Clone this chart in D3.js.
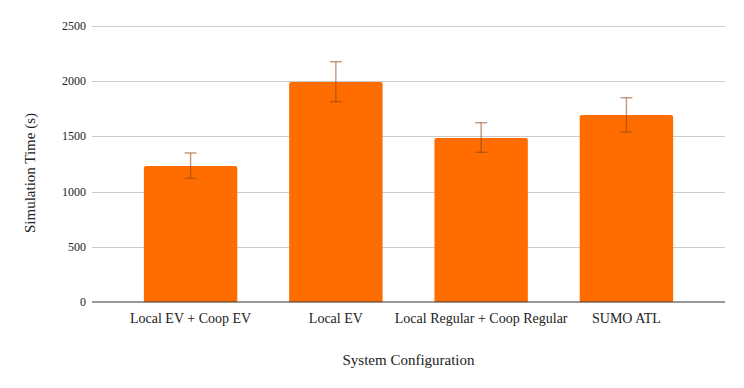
<!DOCTYPE html>
<html>
<head>
<meta charset="utf-8">
<script src="https://cdn.jsdelivr.net/npm/d3@7"></script>
<style>
body{margin:0;background:#fff;}
text{font-family:"Liberation Serif","Times New Roman",serif;fill:#222;}
</style>
</head>
<body>
<script>
var categories=["Local EV + Coop EV","Local EV","Local Regular + Coop Regular","SUMO ATL"];
var values=[1232,1993,1486,1694];
var errLow=[1120,1814,1356,1540];
var errHigh=[1350,2177,1624,1850];
var yticks=[0,500,1000,1500,2000,2500];

var chart_w=744,chart_h=388;
var plot_left=92,plot_right=725,plot_top=26,plot_bottom=302;

var svg=d3.select("body").append("svg").attr("width",chart_w).attr("height",chart_h);

var yscale=d3.scaleLinear().domain([0,2500]).range([plot_bottom,plot_top]);
var xscale=d3.scaleBand().domain(categories).range([plot_left,plot_right]).padding(0.357);

// grid
svg.append("g").selectAll("line").data(yticks.filter(function(d){return d>0;})).enter().append("line")
	.attr("x1",plot_left).attr("x2",plot_right)
	.attr("y1",function(d){return Math.round(yscale(d))+0.5;}).attr("y2",function(d){return Math.round(yscale(d))+0.5;})
	.style("stroke","#cccccc").style("stroke-width",1);

// y tick labels
svg.append("g").selectAll("text").data(yticks).enter().append("text")
	.attr("x",86).attr("y",function(d){return yscale(d)+4;})
	.attr("text-anchor","end").style("font-size","12px")
	.text(function(d){return d;});

// bars with rounded tops
var r=2;
svg.append("g").selectAll("path").data(values).enter().append("path")
	.attr("fill","#ff6d00")
	.attr("d",function(d,i){
		var x0=xscale(categories[i]),w=xscale.bandwidth(),y0=yscale(d),y1=yscale(0);
		return "M"+x0+","+y1+"V"+(y0+r)+"Q"+x0+","+y0+" "+(x0+r)+","+y0+"H"+(x0+w-r)+"Q"+(x0+w)+","+y0+" "+(x0+w)+","+(y0+r)+"V"+y1+"Z";
	});

// baseline
svg.append("line").attr("x1",plot_left).attr("x2",plot_right).attr("y1",yscale(0)).attr("y2",yscale(0))
	.style("stroke","#333").style("stroke-width",1.2);

// error bars
var eb=svg.append("g").style("stroke","#8b4513").style("stroke-opacity",0.55).style("stroke-width",1.4);
categories.forEach(function(c,i){
	var cx=xscale(c)+xscale.bandwidth()/2;
	eb.append("line").attr("x1",cx).attr("x2",cx).attr("y1",yscale(errLow[i])).attr("y2",yscale(errHigh[i]));
	eb.append("line").attr("x1",cx-6).attr("x2",cx+6).attr("y1",yscale(errLow[i])).attr("y2",yscale(errLow[i]));
	eb.append("line").attr("x1",cx-6).attr("x2",cx+6).attr("y1",yscale(errHigh[i])).attr("y2",yscale(errHigh[i]));
});

// category labels
svg.append("g").selectAll("text").data(categories).enter().append("text")
	.attr("x",function(d){return xscale(d)+xscale.bandwidth()/2;}).attr("y",323)
	.attr("text-anchor","middle").style("font-size","14px")
	.text(function(d){return d;});

// axis titles
svg.append("text").attr("x",(plot_left+plot_right)/2).attr("y",365).attr("text-anchor","middle")
	.style("font-size","15px").text("System Configuration");
svg.append("text").attr("transform","translate(35,173) rotate(-90)").attr("text-anchor","middle")
	.style("font-size","15px").text("Simulation Time (s)");
</script>
</body>
</html>
